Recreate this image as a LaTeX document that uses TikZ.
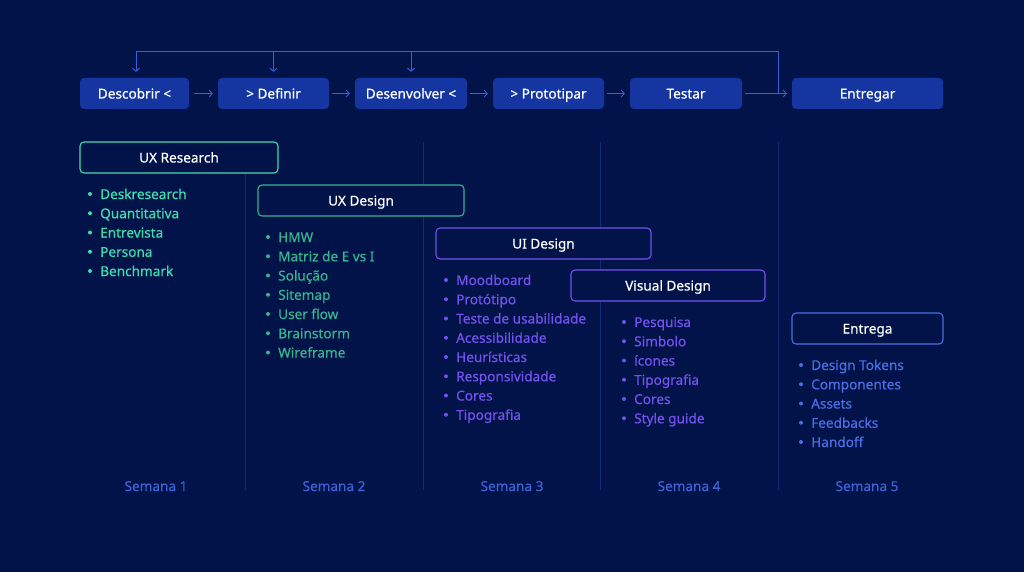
\documentclass[tikz,border=0pt]{standalone}
\usepackage{fontspec}
\setmainfont{Noto Sans}
\newfontfamily\medfont{Noto Sans}[FakeBold=0.5]
\usetikzlibrary{arrows.meta,calc}
\definecolor{bg}{HTML}{021349}
\definecolor{boxfill}{HTML}{1536A0}
\definecolor{arrowc}{HTML}{3A60D8}
\definecolor{divc}{HTML}{14297A}
\definecolor{mint}{HTML}{3EDDB0}
\definecolor{teal}{HTML}{36B38F}
\definecolor{purp}{HTML}{7351EC}
\definecolor{bluel}{HTML}{4A6EE2}
\definecolor{weekc}{HTML}{3C62D6}
\tikzset{
  txt/.style={font=\medfont\fontsize{13.6}{15}\selectfont, text height=11pt, text depth=1pt},
  phase/.style={txt, fill=boxfill, rounded corners=4pt, text=white, minimum height=31pt, inner sep=0pt},
  stagebox/.style={txt, draw=#1, line width=1.1pt, fill=bg, rounded corners=4pt, text=white, minimum height=31pt, inner sep=0pt},
  flow/.style={draw=arrowc, line width=0.9pt, -{Straight Barb[length=3pt,width=7pt]}},
  divline/.style={draw=divc, line width=0.8pt},
  item/.style={txt, text=#1, anchor=west, inner sep=0pt},
  week/.style={txt, text=weekc, inner sep=0pt}
}
\begin{document}
\begin{tikzpicture}[x=1pt,y=-1pt]
\fill[bg] (0,0) rectangle (1024,572);
\useasboundingbox (0,0) rectangle (1024,572);
% dividers
\foreach \x/\n in {245/d1,423/d2,600/d3,778/d4}{
  \coordinate (\n t) at (\x,142);
  \coordinate (\n b) at (\x,490);
  \draw[divline] (\n t) -- (\n b);
}
% phases
\node[phase, minimum width=109pt] (p1) at (134.5,93.5) {Descobrir <};
\node[phase, minimum width=111pt] (p2) at (273.5,93.5) {> Definir};
\node[phase, minimum width=112pt] (p3) at (411,93.5) {Desenvolver <};
\node[phase, minimum width=111pt] (p4) at (548.5,93.5) {> Prototipar};
\node[phase, minimum width=112pt] (p5) at (686,93.5) {Testar};
\node[phase, minimum width=151pt] (p6) at (867.5,93.5) {Entregar};
\draw[flow, shorten <=5pt, shorten >=5pt] (p1) -- (p2);
\draw[flow, shorten <=3pt, shorten >=5pt] (p2) -- (p3);
\draw[flow, shorten <=3pt, shorten >=5pt] (p3) -- (p4);
\draw[flow, shorten <=3pt, shorten >=5pt] (p4) -- (p5);
\draw[flow, shorten <=3pt, shorten >=5pt] (p5) -- (p6);
\coordinate (fb0) at (778,93.5);
\coordinate (fbt) at (778,51);
\draw[draw=arrowc, line width=0.9pt] (fb0) -- (fbt) -- (136,51);
\draw[flow] (136,51) -- ($(p1.north)+(1.5,-6)$);
\draw[flow] (p2.north |- fbt) -- ($(p2.north)+(0,-6)$);
\draw[flow] (p3.north |- fbt) -- ($(p3.north)+(0,-6)$);
% stage boxes
\node[stagebox=mint, minimum width=198pt] (s1) at (179,157.5) {UX Research};
\node[stagebox=teal, minimum width=206pt] (s2) at (361,200.5) {UX Design};
\node[stagebox=purp, minimum width=215pt] (s3) at (543.5,243.5) {UI Design};
\node[stagebox=purp, minimum width=194pt] (s4) at (668,285.5) {Visual Design};
\node[stagebox=bluel, minimum width=151pt] (s5) at (867.5,328.5) {Entrega};
% lists
\newcommand{\blist}[5]{% x, y0, color, prefix, items
  \foreach \t [count=\i] in {#5}{
    \fill[#3] (#1-10,{#2+(\i-1)*19.25}) circle (2pt);
    \node[item=#3] (#4\i) at (#1,{#2+(\i-1)*19.25}) {\t};
  }
}
\blist{100}{194}{mint}{a}{Deskresearch,Quantitativa,Entrevista,Persona,Benchmark}
\blist{278}{237}{teal}{b}{HMW,Matriz de E vs I,Solução,Sitemap,User flow,Brainstorm,Wireframe}
\blist{456}{280}{purp}{c}{Moodboard,Protótipo,Teste de usabilidade,Acessibilidade,Heurísticas,Responsividade,Cores,Tipografia}
\blist{634}{322}{purp}{e}{Pesquisa,Simbolo,ícones,Tipografia,Cores,Style guide}
\blist{811}{365}{bluel}{f}{Design Tokens,Componentes,Assets,Feedbacks,Handoff}
% weeks
\node[week] (w1) at (156,486) {Semana 1};
\node[week] (w2) at (334,486) {Semana 2};
\node[week] (w3) at (512,486) {Semana 3};
\node[week] (w4) at (689,486) {Semana 4};
\node[week] (w5) at (867,486) {Semana 5};
\end{tikzpicture}
\end{document}
